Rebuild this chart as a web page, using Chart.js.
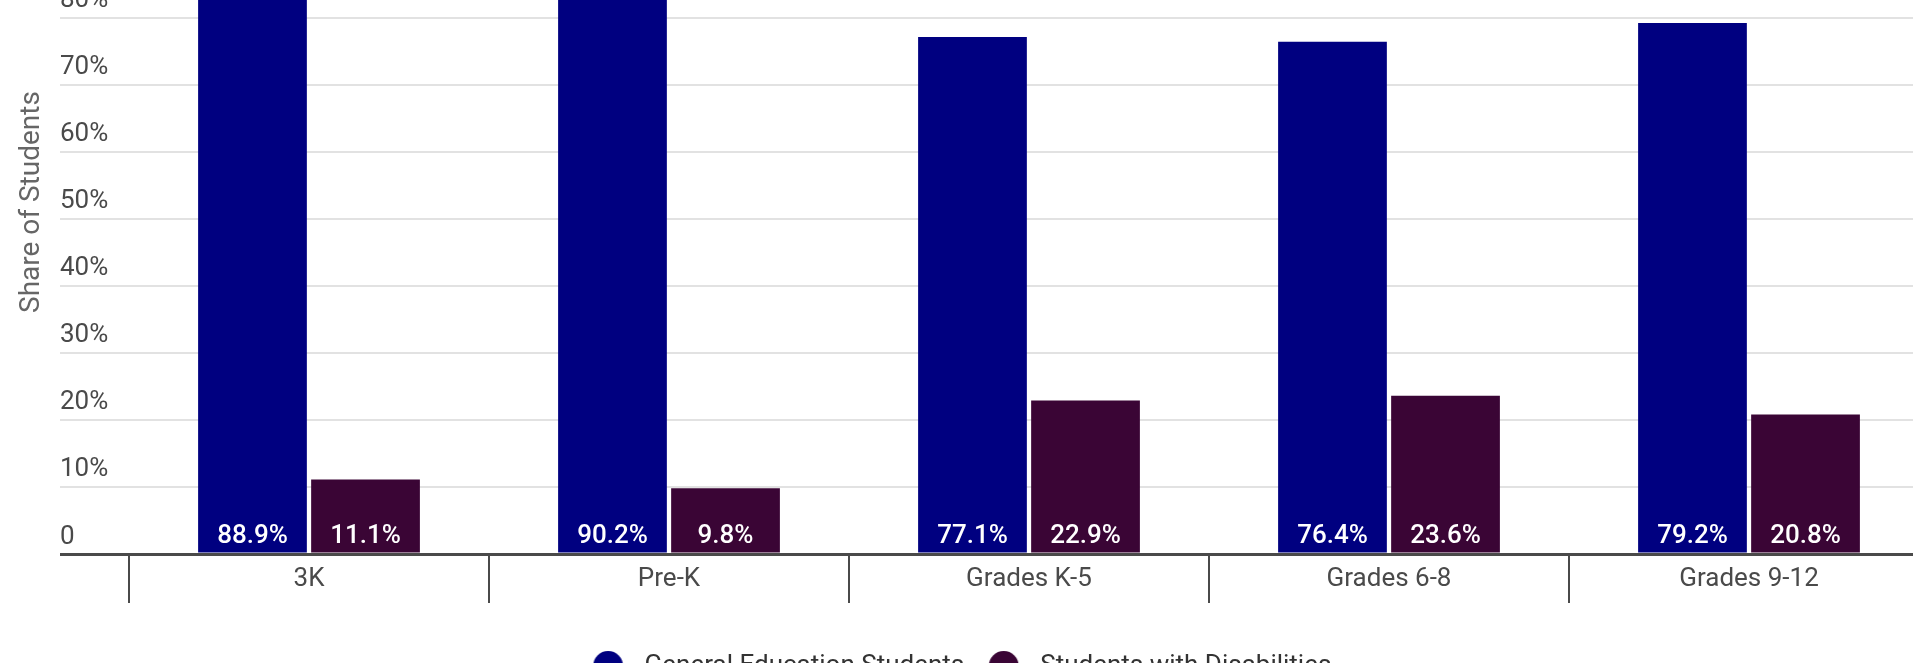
<!DOCTYPE html>
<html>
<head>
<meta charset="utf-8">
<title>Share of Students by Grade Band</title>
<script src="https://cdn.jsdelivr.net/npm/chart.js@4/dist/chart.umd.min.js"></script>
<style>
  html, body { margin: 0; padding: 0; background: #fff; overflow: hidden; width: 1913px; height: 663px; }
  .chart-wrap { position: absolute; left: 0; top: -160px; width: 1936px; height: 849px; }
</style>
</head>
<body>
<div class="chart-wrap"><canvas id="chart"></canvas></div>
<script>
const categories = ['3K', 'Pre-K', 'Grades K-5', 'Grades 6-8', 'Grades 9-12'];
const generalEd = [88.9, 90.2, 77.1, 76.4, 79.2];
const withDisabilities = [11.1, 9.8, 22.9, 23.6, 20.8];
const yTickValues = [0, 10, 20, 30, 40, 50, 60, 70, 80, 90, 100];

const NAVY = '#000080';
const PLUM = '#3a0535';
const FONT = 'Roboto, "Noto Sans", sans-serif';

// round legend marker with some room on its right so the text sits further out
const legendDot = (color) => {
  const c = document.createElement('canvas');
  c.width = 52;
  c.height = 32;
  const g = c.getContext('2d');
  g.fillStyle = color;
  g.beginPath();
  g.arc(15.5, 16, 15, 0, Math.PI * 2);
  g.fill();
  return c;
};
const legendDots = [legendDot(NAVY), legendDot(PLUM)];

// white percentage written at the foot of every bar
const barValueLabels = {
  id: 'barValueLabels',
  afterDatasetsDraw(chart) {
    const { ctx, scales: { y } } = chart;
    const base = y.getPixelForValue(0);
    ctx.save();
    ctx.font = `500 26px ${FONT}`;
    ctx.fillStyle = '#fff';
    ctx.textAlign = 'center';
    ctx.textBaseline = 'middle';
    chart.data.datasets.forEach((ds, i) => {
      chart.getDatasetMeta(i).data.forEach((bar, j) => {
        ctx.fillText(`${ds.data[j].toFixed(1)}%`, bar.x, base - 18);
      });
    });
    ctx.restore();
  }
};

const ctx = document.getElementById('chart');

new Chart(ctx, {
  type: 'bar',
  data: {
    labels: categories,
    datasets: [
      {
        label: 'General Education Students',
        data: generalEd,
        backgroundColor: NAVY,
        categoryPercentage: 0.628,
        barPercentage: 0.962
      },
      {
        label: 'Students with Disabilities',
        data: withDisabilities,
        backgroundColor: PLUM,
        categoryPercentage: 0.628,
        barPercentage: 0.962
      }
    ]
  },
  options: {
    responsive: true,
    maintainAspectRatio: false,
    animation: false,
    layout: {
      padding: { top: 10, left: 8, right: 7, bottom: 0 }
    },
    scales: {
      x: {
        border: { display: false },
        grid: {
          offset: true,
          drawOnChartArea: false,
          drawTicks: true,
          tickLength: 49,
          color: '#4a4a4a',
          lineWidth: 2
        },
        ticks: {
          padding: -39,
          color: '#4a4a4a',
          font: { family: FONT, size: 26 }
        },
        afterFit: (scale) => { scale.height = 62; }
      },
      y: {
        min: 0,
        max: 105,
        afterBuildTicks: (scale) => {
          scale.ticks = yTickValues.map(v => ({ value: v }));
        },
        // title strip plus the grid lines' run-out past the first category
        afterFit: (scale) => { scale.width = 121; },
        border: { display: false },
        grid: {
          drawTicks: true,
          tickLength: 69,
          color: (c) => c.tick && c.tick.value === 0 ? '#4a4a4a' : '#e2e2e2',
          lineWidth: (c) => c.tick && c.tick.value === 0 ? 3 : 2
        },
        ticks: {
          mirror: true,
          padding: -69,
          labelOffset: -17,
          color: '#4a4a4a',
          font: { family: FONT, size: 26 },
          callback: (v) => v === 0 ? '0' : `${v}%`
        },
        title: {
          display: true,
          text: 'Share of Students',
          color: '#666',
          font: { family: FONT, size: 28 },
          padding: { top: 7, bottom: 0 }
        }
      }
    },
    plugins: {
      tooltip: { enabled: false },
      legend: {
        position: 'bottom',
        labels: {
          usePointStyle: true,
          padding: 37,
          color: '#333',
          font: { family: FONT, size: 26 },
          generateLabels(chart) {
            const items = Chart.defaults.plugins.legend.labels.generateLabels(chart);
            items.forEach(it => { it.pointStyle = legendDots[it.datasetIndex]; });
            return items;
          }
        }
      }
    }
  },
  plugins: [barValueLabels]
});
</script>
</body>
</html>
